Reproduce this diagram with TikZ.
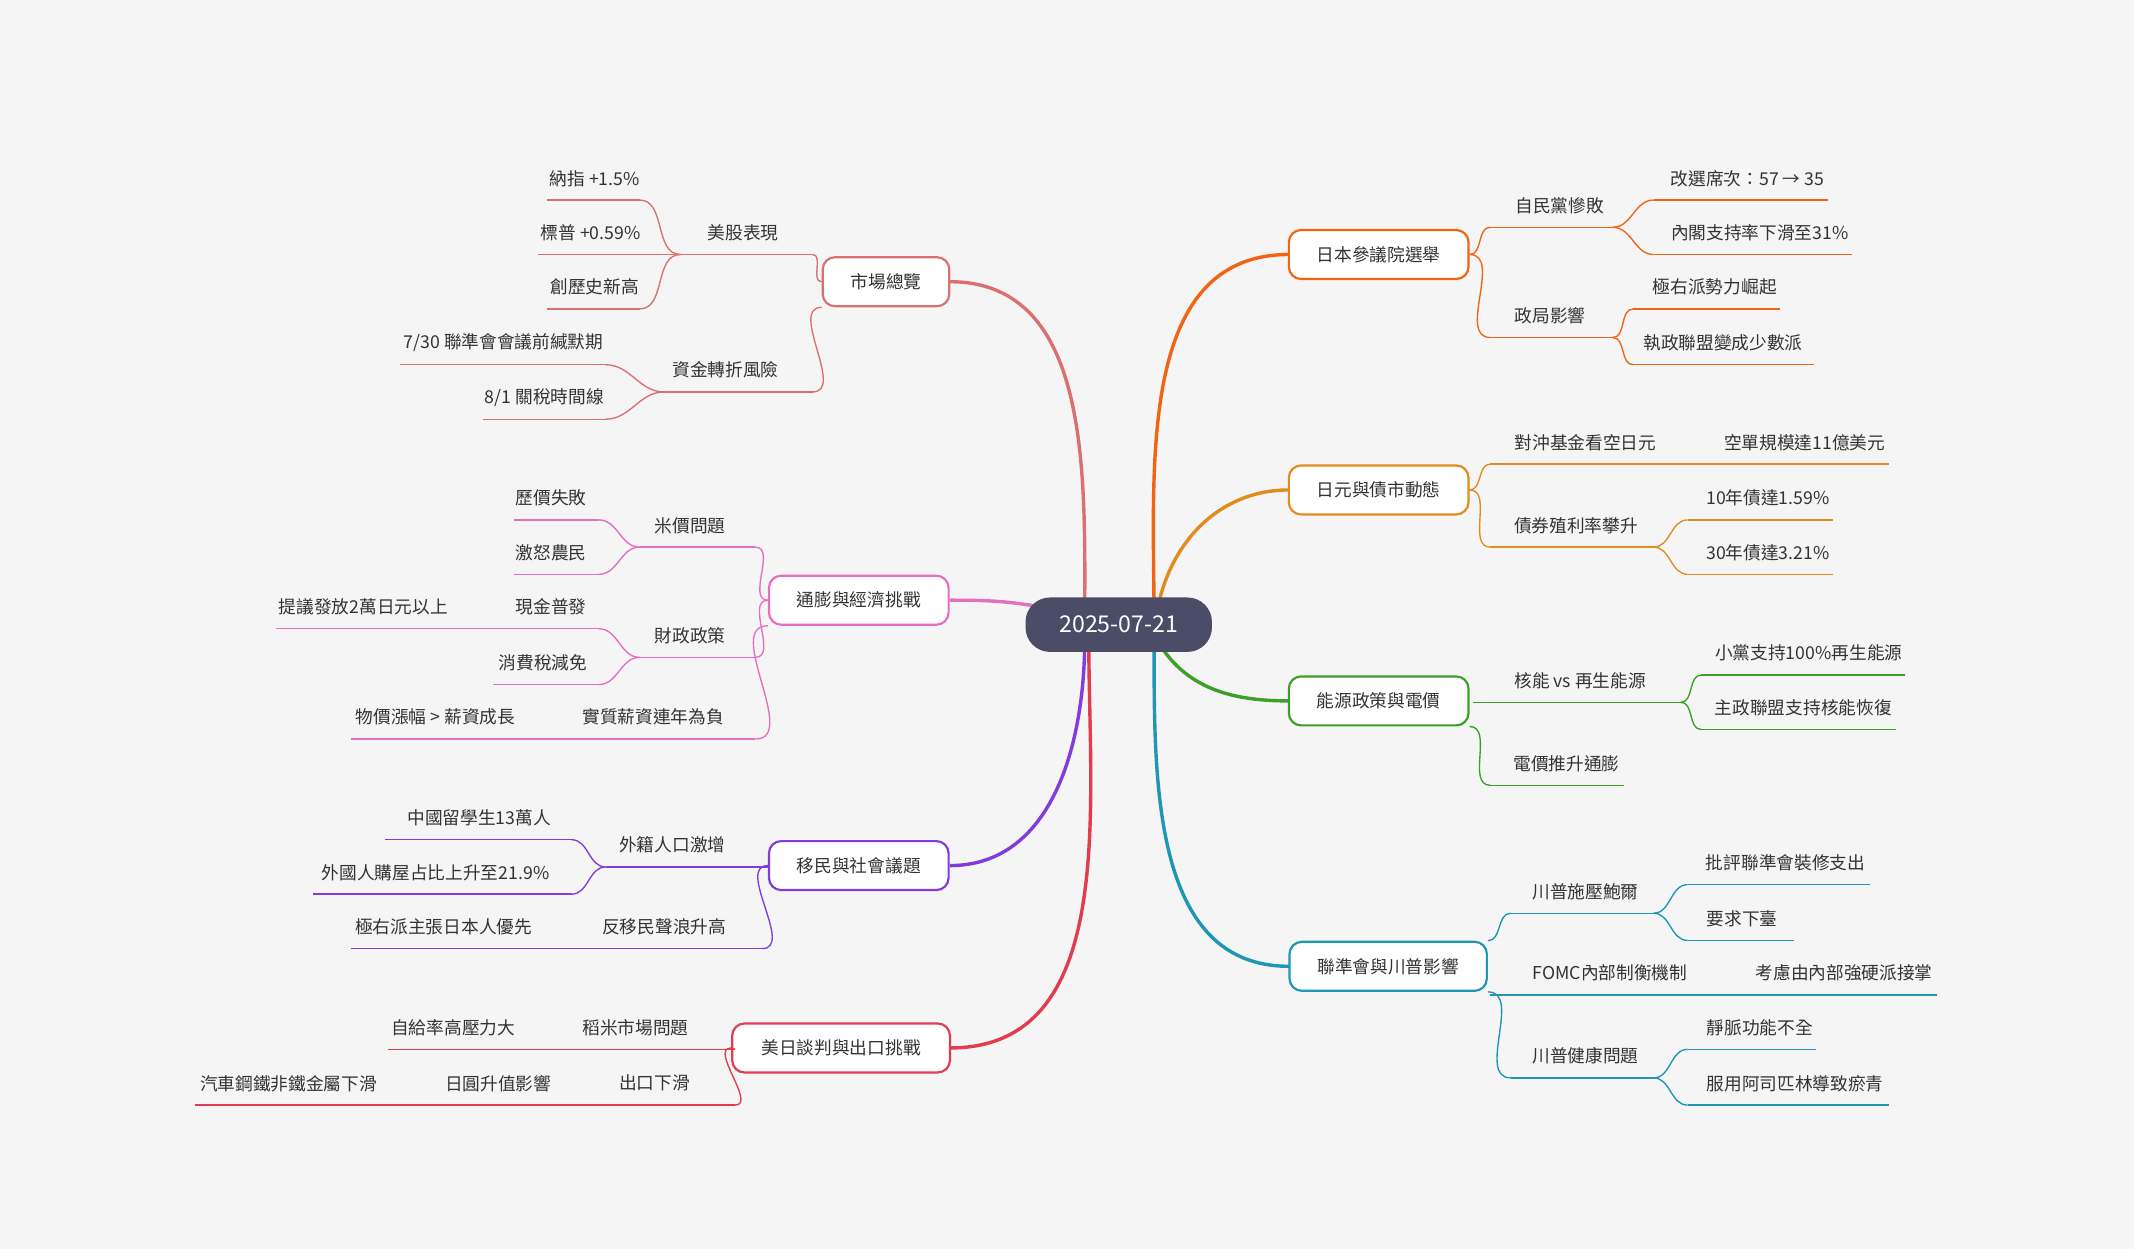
\documentclass[tikz,border=0pt]{standalone}
\usepackage{fontspec}
\setmainfont{Noto Sans CJK TC}
\definecolor{bg}{RGB}{245,245,245}
\definecolor{cA}{RGB}{218,112,112}
\definecolor{cB}{RGB}{230,110,190}
\definecolor{cC}{RGB}{130,60,220}
\definecolor{cD}{RGB}{225,60,80}
\definecolor{cE}{RGB}{240,100,20}
\definecolor{cF}{RGB}{225,140,30}
\definecolor{cG}{RGB}{60,160,40}
\definecolor{cH}{RGB}{30,150,180}
\definecolor{ctr}{RGB}{74,76,104}
\newcommand\sn[7]{%
 \node[lab] (#1) at (#2,#3) {#7};
 \coordinate (#1L) at (#4,{#3+16}); \coordinate (#1R) at (#5,{#3+16});
 \draw[#6,line width=1pt] (#1L)--(#1R);}
\newcommand\mb[6]{\node[mainbox,draw=#5,minimum width=#4] (#1) at (#2,#3) {#6};}
\newcommand\lkl[3]{\draw[#1,line width=1pt] (#2) to[out=180,in=0] (#3);}
\newcommand\lkr[3]{\draw[#1,line width=1pt] (#2) to[out=0,in=180] (#3);}
\begin{document}
\begin{tikzpicture}[x=1pt,y=-1pt,
 lab/.style={font=\fontsize{13}{15}\selectfont,text=black!80,inner sep=0pt},
 mainbox/.style={rounded corners=9pt,line width=1.6pt,fill=white,minimum height=36pt,font=\fontsize{13}{15}\selectfont,text=black!80}]
\fill[bg] (0,0) rectangle (1568,918);
\useasboundingbox (0,0) rectangle (1568,918);
% main branches (curves first)
\draw[cA,line width=2.5pt] (797,459) to[out=90,in=0] (698,207);
\draw[cB,line width=2.5pt] (765,446) to[out=170,in=0] (698,441);
\draw[cC,line width=2.5pt] (797,470) to[out=-90,in=0] (698,636);
\draw[cD,line width=2.5pt] (800,470) to[out=-90,in=0] (698,770);
\draw[cE,line width=2.5pt] (848,459) to[out=90,in=180] (947,187);
\draw[cF,line width=2.5pt] (850,450) to[out=80,in=180] (947,360);
\draw[cG,line width=2.5pt] (850,470) to[out=-60,in=180] (947,515);
\draw[cH,line width=2.5pt] (848,470) to[out=-90,in=180] (947,710);
\node[fill=ctr,rounded corners=18pt,minimum width=137pt,minimum height=40pt,text=white,font=\fontsize{17}{20}\selectfont] (c) at (822,459) {2025-07-21};
\mb{m1}{651}{207}{93pt}{cA}{市場總覽}
\mb{m2}{631}{441}{132pt}{cB}{通膨與經濟挑戰}
\mb{m3}{631}{636}{132pt}{cC}{移民與社會議題}
\mb{m4}{618}{770}{160pt}{cD}{美日談判與出口挑戰}
\mb{m5}{1013}{187}{132pt}{cE}{日本參議院選舉}
\mb{m6}{1013}{360}{132pt}{cF}{日元與債市動態}
\mb{m7}{1013}{515}{132pt}{cG}{能源政策與電價}
\mb{m8}{1020}{710}{145pt}{cH}{聯準會與川普影響}
% left: market
\sn{a1}{546}{171}{500}{597}{cA}{美股表現}
\sn{a11}{437}{131}{402}{470}{cA}{納指 +1.5\%}
\sn{a12}{434}{171}{395}{470}{cA}{標普 +0.59\%}
\sn{a13}{437}{211}{402}{470}{cA}{創歷史新高}
\sn{a2}{533}{272}{488}{597}{cA}{資金轉折風險}
\sn{a21}{370}{252}{294}{445}{cA}{7/30 聯準會會議前緘默期}
\sn{a22}{400}{292}{355}{445}{cA}{8/1 關稅時間線}
\lkl{cA}{m1.west}{a1R}\lkl{cA}{m1.south west}{a2R}
\lkl{cA}{a1L}{a11R}\lkl{cA}{a1L}{a12R}\lkl{cA}{a1L}{a13R}
\lkl{cA}{a2L}{a21R}\lkl{cA}{a2L}{a22R}
% inflation
\sn{b1}{507}{386}{470}{555}{cB}{米價問題}
\sn{b11}{405}{366}{378}{440}{cB}{歷價失敗}
\sn{b12}{405}{406}{378}{440}{cB}{激怒農民}
\sn{b2}{507}{467}{470}{555}{cB}{財政政策}
\sn{b21}{405}{446}{365}{440}{cB}{現金普發}
\sn{b211}{267}{446}{203}{365}{cB}{提議發放2萬日元以上}
\sn{b22}{399}{487}{362}{440}{cB}{消費稅減免}
\sn{b3}{480}{527}{420}{555}{cB}{實質薪資連年為負}
\sn{b31}{320}{527}{258}{420}{cB}{物價漲幅 > 薪資成長}
\lkl{cB}{m2.west}{b1R}\lkl{cB}{m2.west}{b2R}\lkl{cB}{m2.south west}{b3R}
\lkl{cB}{b1L}{b11R}\lkl{cB}{b1L}{b12R}\lkl{cB}{b2L}{b21R}\lkl{cB}{b2L}{b22R}
% immigration
\sn{c1}{494}{621}{445}{565}{cC}{外籍人口激增}
\sn{c11}{352}{601}{283}{420}{cC}{中國留學生13萬人}
\sn{c12}{320}{641}{230}{420}{cC}{外國人購屋占比上升至21.9\%}
\sn{c2}{488}{681}{415}{560}{cC}{反移民聲浪升高}
\sn{c21}{326}{681}{258}{415}{cC}{極右派主張日本人優先}
\lkl{cC}{m3.west}{c1R}\lkl{cC}{m3.west}{c2R}
\lkl{cC}{c1L}{c11R}\lkl{cC}{c1L}{c12R}
% trade
\sn{d1}{467}{755}{395}{540}{cD}{稻米市場問題}
\sn{d11}{333}{755}{285}{395}{cD}{自給率高壓力大}
\sn{d2}{481}{796}{425}{540}{cD}{出口下滑}
\sn{d21}{366}{796}{295}{425}{cD}{日圓升值影響}
\sn{d211}{212}{796}{143}{295}{cD}{汽車鋼鐵非鐵金屬下滑}
\lkl{cD}{m4.west}{d1R}\lkl{cD}{m4.west}{d2R}
% right: election
\sn{e1}{1146}{151}{1095}{1185}{cE}{自民黨慘敗}
\sn{e11}{1284}{131}{1215}{1343}{cE}{改選席次：57 → 35}
\sn{e12}{1293}{171}{1215}{1361}{cE}{內閣支持率下滑至31\%}
\sn{e2}{1139}{232}{1095}{1185}{cE}{政局影響}
\sn{e21}{1260}{211}{1200}{1308}{cE}{極右派勢力崛起}
\sn{e22}{1266}{252}{1200}{1333}{cE}{執政聯盟變成少數派}
\lkr{cE}{m5.east}{e1L}\lkr{cE}{m5.east}{e2L}
\lkr{cE}{e1R}{e11L}\lkr{cE}{e1R}{e12L}\lkr{cE}{e2R}{e21L}\lkr{cE}{e2R}{e22L}
% yen
\sn{f1}{1165}{325}{1095}{1260}{cF}{對沖基金看空日元}
\sn{f11}{1326}{325}{1260}{1388}{cF}{空單規模達11億美元}
\sn{f2}{1158}{386}{1095}{1215}{cF}{債券殖利率攀升}
\sn{f21}{1299}{366}{1240}{1347}{cF}{10年債達1.59\%}
\sn{f22}{1299}{406}{1240}{1347}{cF}{30年債達3.21\%}
\lkr{cF}{m6.east}{f1L}\lkr{cF}{m6.east}{f2L}
\lkr{cF}{f2R}{f21L}\lkr{cF}{f2R}{f22L}
% energy
\sn{g1}{1161}{500}{1082}{1235}{cG}{核能 vs 再生能源}
\sn{g11}{1329}{480}{1250}{1400}{cG}{小黨支持100\%再生能源}
\sn{g12}{1325}{520}{1250}{1393}{cG}{主政聯盟支持核能恢復}
\sn{g2}{1151}{561}{1095}{1193}{cG}{電價推升通膨}
\lkr{cG}{m7.south east}{g2L}
\lkr{cG}{g1R}{g11L}\lkr{cG}{g1R}{g12L}
% fed
\sn{h1}{1165}{655}{1110}{1215}{cH}{川普施壓鮑爾}
\sn{h11}{1312}{634}{1240}{1374}{cH}{批評聯準會裝修支出}
\sn{h12}{1280}{675}{1240}{1318}{cH}{要求下臺}
\sn{h2}{1183}{715}{1095}{1280}{cH}{FOMC內部制衡機制}
\sn{h21}{1355}{715}{1280}{1423}{cH}{考慮由內部強硬派接掌}
\sn{h3}{1165}{776}{1110}{1215}{cH}{川普健康問題}
\sn{h31}{1293}{755}{1240}{1334}{cH}{靜脈功能不全}
\sn{h32}{1319}{796}{1240}{1388}{cH}{服用阿司匹林導致瘀青}
\lkr{cH}{m8.north east}{h1L}\lkr{cH}{m8.south east}{h3L}
\lkr{cH}{h1R}{h11L}\lkr{cH}{h1R}{h12L}\lkr{cH}{h3R}{h31L}\lkr{cH}{h3R}{h32L}
\end{tikzpicture}
\end{document}
